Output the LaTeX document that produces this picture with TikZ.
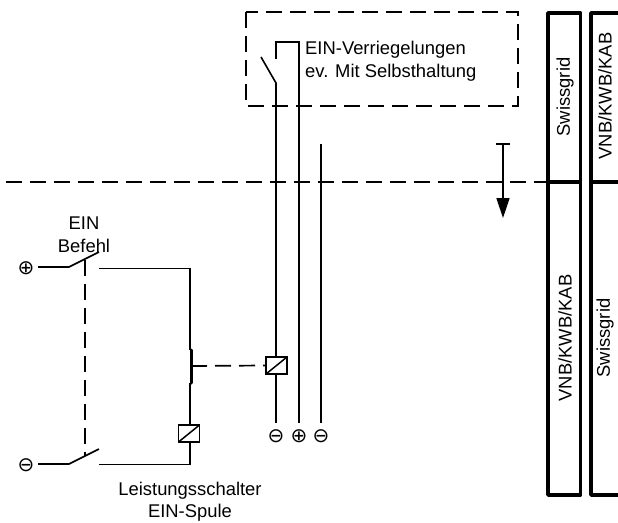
\documentclass[tikz,border=0pt]{standalone}
\usepackage{fontspec}
\setmainfont{Liberation Sans}
\newfontfamily\symfont{DejaVu Sans}
\usetikzlibrary{arrows.meta}
\tikzset{
  wire/.style={line width=1.6pt,black},
  mech/.style={line width=1.7pt,black,dash pattern=on 16pt off 8pt},
  col/.style={line width=3.6pt,black,line join=round},
  lbl/.style={font=\fontsize{18.4}{22}\selectfont,inner sep=0pt,align=center},
  term/.style={font=\symfont\fontsize{20}{20}\selectfont,inner sep=0pt},
  coil/.style={draw,line width=1.8pt,minimum width=21pt,minimum height=17pt,inner sep=0pt,
    path picture={\draw[line width=1.5pt] (path picture bounding box.south west)--(path picture bounding box.north east);}},
  pt/.style={inner sep=0pt,outer sep=0pt,minimum size=0pt}
}
\begin{document}
\begin{tikzpicture}[x=1pt,y=-1pt]
\useasboundingbox (0,0) rectangle (618,522);
% dashed frames
\node[pt] (bTL) at (246,12) {}; \node[pt] (bBR) at (518,106) {};
\draw[mech] (bTL) rectangle (bBR);
\coordinate (divL) at (6,182); \coordinate (divM) at (547,182); \coordinate (divR) at (618,182);
\draw[mech] (divL) -- (divM);
% columns
\coordinate (c1a) at (548,495); \coordinate (c1b) at (548,13); \coordinate (c1c) at (580.5,13); \coordinate (c1d) at (580.5,495);
\draw[col] (c1a) -- (c1b) -- (c1c) -- (c1d) -- cycle;
\coordinate (c2a) at (618,495); \coordinate (c2b) at (591,495); \coordinate (c2c) at (591,13); \coordinate (c2d) at (618,13);
\draw[col] (c2a) -- (c2b) -- (c2c) -- (c2d);
\draw[col] (divM) -- (582,182);
\draw[col] (589,182) -- (divR);
\node[lbl,rotate=90] (sw1) at (565,97) {Swissgrid};
\node[lbl,rotate=90] (vn1) at (605,96) {VNB/KWB/KAB};
\node[lbl,rotate=90] (vn2) at (565,338) {VNB/KWB/KAB};
\node[lbl,rotate=90] (sw2) at (605,338) {Swissgrid};
% labels
\node[lbl,anchor=west] (t1) at (305,50) {EIN-Verriegelungen};
\node[lbl,anchor=west] (t2) at (305,72.5) {ev. Mit Selbsthaltung};
\node[lbl] (t3) at (84,223) {EIN};
\node[lbl] (t4) at (84,246) {Befehl};
\node[lbl] (t5) at (190,491) {Leistungsschalter};
\node[lbl] (t6) at (190,513) {EIN-Spule};
% coils
\node[coil] (k1) at (276.5,365.5) {};
\node[coil] (k2) at (189,433.5) {};
% terminals
\node[term] (tp) at (26,268) {⊕};
\node[term] (tm) at (26,465) {⊖};
\node[term] (t7) at (276,436) {⊖};
\node[term] (t8) at (299,436) {⊕};
\node[term] (t9) at (321,436) {⊖};
% top contacts
\coordinate (a1) at (261,57); \coordinate (a2) at (276,83); \coordinate (a3) at (276,59);
\coordinate (a4) at (276,42); \coordinate (a5) at (299,42);
\coordinate (a6) at (321,144);
\draw[wire] (a1) -- (a2) -- (k1.north -| a2);
\draw[wire] (k1.south -| a2) -- (t7.north |- 0,423);
\draw[wire] (a3) -- (a4) -- (a5) -- (t8.north |- 0,423);
\draw[wire] (a6) -- (t9.north |- 0,423);
% arrow
\coordinate (w1) at (503,144); \coordinate (w2) at (503,218);
\draw[wire] (496,144) -- (510,144);
\draw[wire,-{Triangle[length=20pt,width=13pt]}] (w1) -- (w2);
% EIN Befehl circuit
\coordinate (s1) at (38,267); \coordinate (s2) at (69,267); \coordinate (s3) at (99,252);
\coordinate (s4) at (99,268.5); \coordinate (s5) at (190,268.5); \coordinate (s6) at (190,350);
\coordinate (s7) at (190,383);
\draw[wire] (s1) -- (s2) -- (s3);
\draw[wire] (s4) -- (s5) -- (s6);
\draw[line width=3pt,line cap=round] (191,350) -- (191,383);
\draw[wire] (s7) -- (s7 |- k2.north);
\draw[mech] (191,366) -- (k1.west);
% lower
\coordinate (u1) at (38,464); \coordinate (u2) at (69,464); \coordinate (u3) at (99,449);
\coordinate (u4) at (99,464.5); \coordinate (u5) at (190,464.5);
\draw[wire] (u1) -- (u2) -- (u3);
\draw[wire] (u4) -- (u5) -- (u5 |- k2.south);
% mechanical link
\coordinate (m1) at (85,260); \coordinate (m2) at (85,456);
\draw[mech] (m1) -- (m2);
\end{tikzpicture}
\end{document}
